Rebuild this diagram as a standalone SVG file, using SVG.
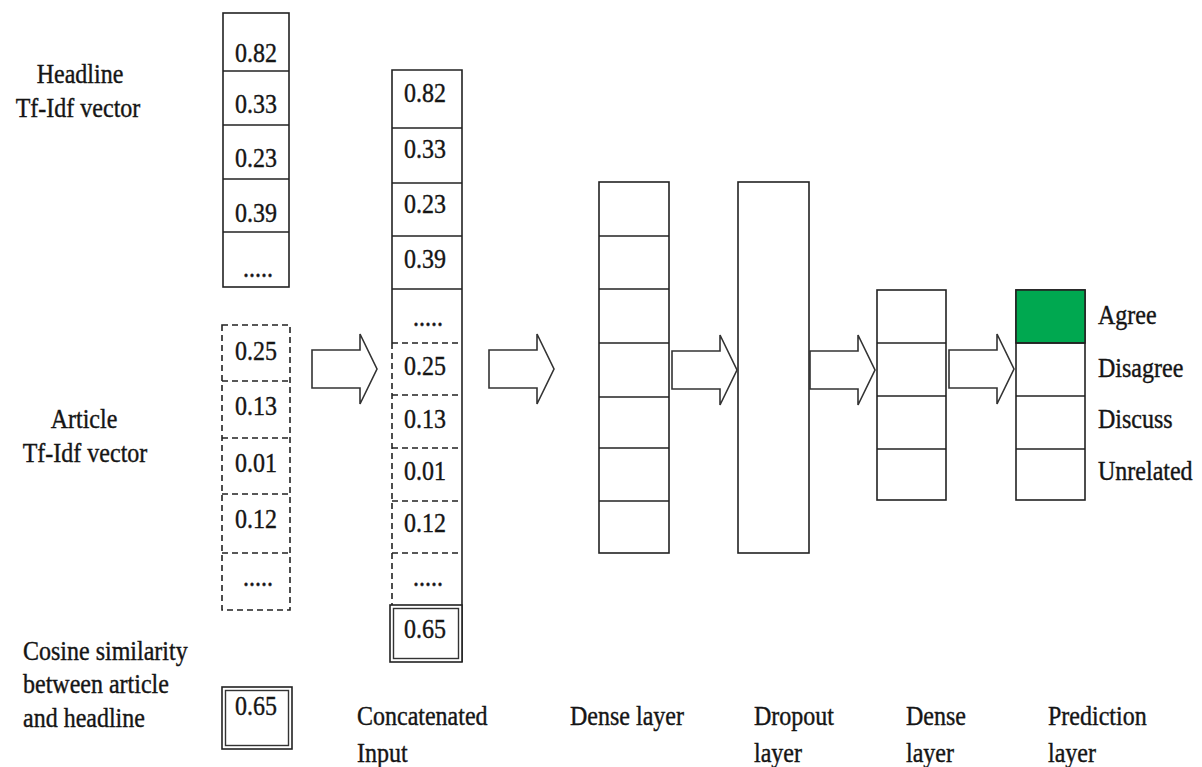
<svg xmlns="http://www.w3.org/2000/svg" width="1202" height="767" viewBox="0 0 1202 767">
  <style>
    .t { font-family: "Liberation Serif", "Times New Roman", serif; font-size: 24px; fill: #151515; stroke: #151515; stroke-width: 0.35; }
    .m { text-anchor: middle; }
    .cell { fill: #fff; stroke: #222; stroke-width: 1.6; }
    .ln { stroke: #222; stroke-width: 1.6; fill: none; }
    .dash { stroke: #222; stroke-width: 1.6; fill: none; stroke-dasharray: 6 4; }
    .dbl { fill: none; stroke: #333; stroke-width: 1.4; }
    .arrow { fill: #fff; stroke: #333; stroke-width: 1.6; stroke-linejoin: miter; }
  </style>
  <defs>
    <!-- hollow block arrow, origin at the middle of its tail -->
    <path id="blockArrow" class="arrow" d="M0,-19 H48 V-35 L65,0 L48,35 V19 H0 Z"/>
  </defs>

  <rect width="1202" height="767" fill="#fff"/>

  <!-- headline tf-idf vector -->
  <g id="headline-vector">
    <rect class="cell" x="223" y="13" width="66" height="274"/>
    <line class="ln" x1="223" y1="71" x2="289" y2="71"/>
    <line class="ln" x1="223" y1="125" x2="289" y2="125"/>
    <line class="ln" x1="223" y1="179" x2="289" y2="179"/>
    <line class="ln" x1="223" y1="232" x2="289" y2="232"/>
    <text class="t m" transform="translate(256 62) scale(1 1.15)">0.82</text>
    <text class="t m" transform="translate(256 113) scale(1 1.15)">0.33</text>
    <text class="t m" transform="translate(256 167) scale(1 1.15)">0.23</text>
    <text class="t m" transform="translate(256 222) scale(1 1.15)">0.39</text>
    <text class="t m" transform="translate(258 277) scale(1 1.15)">.....</text>
  </g>
  <g id="headline-label">
    <text class="t m" transform="translate(80 83) scale(1 1.15)">Headline</text>
    <text class="t m" transform="translate(78 117) scale(1 1.15)">Tf-Idf vector</text>
  </g>

  <!-- article tf-idf vector -->
  <g id="article-vector">
    <rect class="dash" x="222" y="325" width="68" height="285"/>
    <line class="dash" x1="222" y1="381" x2="290" y2="381"/>
    <line class="dash" x1="222" y1="438" x2="290" y2="438"/>
    <line class="dash" x1="222" y1="494" x2="290" y2="494"/>
    <line class="dash" x1="222" y1="553" x2="290" y2="553"/>
    <text class="t m" transform="translate(256 360) scale(1 1.15)">0.25</text>
    <text class="t m" transform="translate(256 415) scale(1 1.15)">0.13</text>
    <text class="t m" transform="translate(256 472) scale(1 1.15)">0.01</text>
    <text class="t m" transform="translate(256 528) scale(1 1.15)">0.12</text>
    <text class="t m" transform="translate(258 586) scale(1 1.15)">.....</text>
  </g>
  <g id="article-label">
    <text class="t m" transform="translate(84 428) scale(1 1.15)">Article</text>
    <text class="t m" transform="translate(85 462) scale(1 1.15)">Tf-Idf vector</text>
  </g>

  <!-- cosine similarity value -->
  <g id="cosine-value">
    <rect class="cell" x="222" y="687" width="70" height="62"/>
    <rect class="dbl" x="225.5" y="690.5" width="63" height="55"/>
    <text class="t m" transform="translate(256 715) scale(1 1.15)">0.65</text>
  </g>
  <g id="cosine-label">
    <text class="t" transform="translate(23 660) scale(1 1.15)">Cosine similarity</text>
    <text class="t" transform="translate(23 693) scale(1 1.15)">between article</text>
    <text class="t" transform="translate(23 727) scale(1 1.15)">and headline</text>
  </g>

  <!-- concatenated input vector -->
  <g id="concatenated-input">
    <rect x="392" y="70" width="70" height="535" fill="#fff"/>
    <polyline class="ln" points="392,343 392,70 462,70 462,662"/>
    <line class="ln" x1="392" y1="128" x2="462" y2="128"/>
    <line class="ln" x1="392" y1="183" x2="462" y2="183"/>
    <line class="ln" x1="392" y1="236" x2="462" y2="236"/>
    <line class="ln" x1="392" y1="289" x2="462" y2="289"/>
    <line class="dash" x1="392" y1="343" x2="392" y2="605"/>
    <line class="dash" x1="392" y1="343" x2="462" y2="343"/>
    <line class="dash" x1="392" y1="395" x2="462" y2="395"/>
    <line class="dash" x1="392" y1="448" x2="462" y2="448"/>
    <line class="dash" x1="392" y1="501" x2="462" y2="501"/>
    <line class="dash" x1="392" y1="553" x2="462" y2="553"/>
    <rect class="cell" x="390" y="605" width="72" height="57"/>
    <rect class="dbl" x="393.5" y="608.5" width="65" height="50"/>
    <text class="t m" transform="translate(425 102) scale(1 1.15)">0.82</text>
    <text class="t m" transform="translate(425 158) scale(1 1.15)">0.33</text>
    <text class="t m" transform="translate(425 213) scale(1 1.15)">0.23</text>
    <text class="t m" transform="translate(425 268) scale(1 1.15)">0.39</text>
    <text class="t m" transform="translate(428 326) scale(1 1.15)">.....</text>
    <text class="t m" transform="translate(425 375) scale(1 1.15)">0.25</text>
    <text class="t m" transform="translate(425 428) scale(1 1.15)">0.13</text>
    <text class="t m" transform="translate(425 480) scale(1 1.15)">0.01</text>
    <text class="t m" transform="translate(425 532) scale(1 1.15)">0.12</text>
    <text class="t m" transform="translate(428 586) scale(1 1.15)">.....</text>
    <text class="t m" transform="translate(425 638) scale(1 1.15)">0.65</text>
  </g>
  <g id="concatenated-label">
    <text class="t" transform="translate(357 725) scale(1 1.15)">Concatenated</text>
    <text class="t" transform="translate(357 762) scale(1 1.15)">Input</text>
  </g>

  <!-- first dense layer -->
  <g id="dense-layer-1">
    <rect class="cell" x="599" y="182" width="70" height="371"/>
    <line class="ln" x1="599" y1="236" x2="669" y2="236"/>
    <line class="ln" x1="599" y1="289" x2="669" y2="289"/>
    <line class="ln" x1="599" y1="343" x2="669" y2="343"/>
    <line class="ln" x1="599" y1="397" x2="669" y2="397"/>
    <line class="ln" x1="599" y1="448" x2="669" y2="448"/>
    <line class="ln" x1="599" y1="501" x2="669" y2="501"/>
    <text class="t" transform="translate(570 725) scale(1 1.15)">Dense layer</text>
  </g>

  <!-- dropout layer -->
  <g id="dropout-layer">
    <rect class="cell" x="738" y="182" width="71" height="371"/>
    <text class="t" transform="translate(754 725) scale(1 1.15)">Dropout</text>
    <text class="t" transform="translate(754 762) scale(1 1.15)">layer</text>
  </g>

  <!-- second dense layer -->
  <g id="dense-layer-2">
    <rect class="cell" x="877" y="290" width="69" height="210"/>
    <line class="ln" x1="877" y1="343" x2="946" y2="343"/>
    <line class="ln" x1="877" y1="396" x2="946" y2="396"/>
    <line class="ln" x1="877" y1="449" x2="946" y2="449"/>
    <text class="t" transform="translate(906 725) scale(1 1.15)">Dense</text>
    <text class="t" transform="translate(906 762) scale(1 1.15)">layer</text>
  </g>

  <!-- prediction layer -->
  <g id="prediction-layer">
    <rect class="cell" x="1016" y="290" width="69" height="210"/>
    <rect x="1016" y="290" width="69" height="53" fill="#00a850" stroke="#222" stroke-width="1.6"/>
    <line class="ln" x1="1016" y1="343" x2="1085" y2="343"/>
    <line class="ln" x1="1016" y1="396" x2="1085" y2="396"/>
    <line class="ln" x1="1016" y1="449" x2="1085" y2="449"/>
    <text class="t" transform="translate(1098 324) scale(1 1.15)">Agree</text>
    <text class="t" transform="translate(1098 377) scale(1 1.15)">Disagree</text>
    <text class="t" transform="translate(1098 428) scale(1 1.15)">Discuss</text>
    <text class="t" transform="translate(1098 480) scale(1 1.15)">Unrelated</text>
    <text class="t" transform="translate(1048 725) scale(1 1.15)">Prediction</text>
    <text class="t" transform="translate(1048 762) scale(1 1.15)">layer</text>
  </g>

  <!-- connectors -->
  <g id="connectors">
    <use href="#blockArrow" transform="translate(312 369)"/>
    <use href="#blockArrow" transform="translate(489 369)"/>
    <use href="#blockArrow" transform="translate(672 370)"/>
    <use href="#blockArrow" transform="translate(810 370)"/>
    <use href="#blockArrow" transform="translate(949 369)"/>
  </g>
</svg>
